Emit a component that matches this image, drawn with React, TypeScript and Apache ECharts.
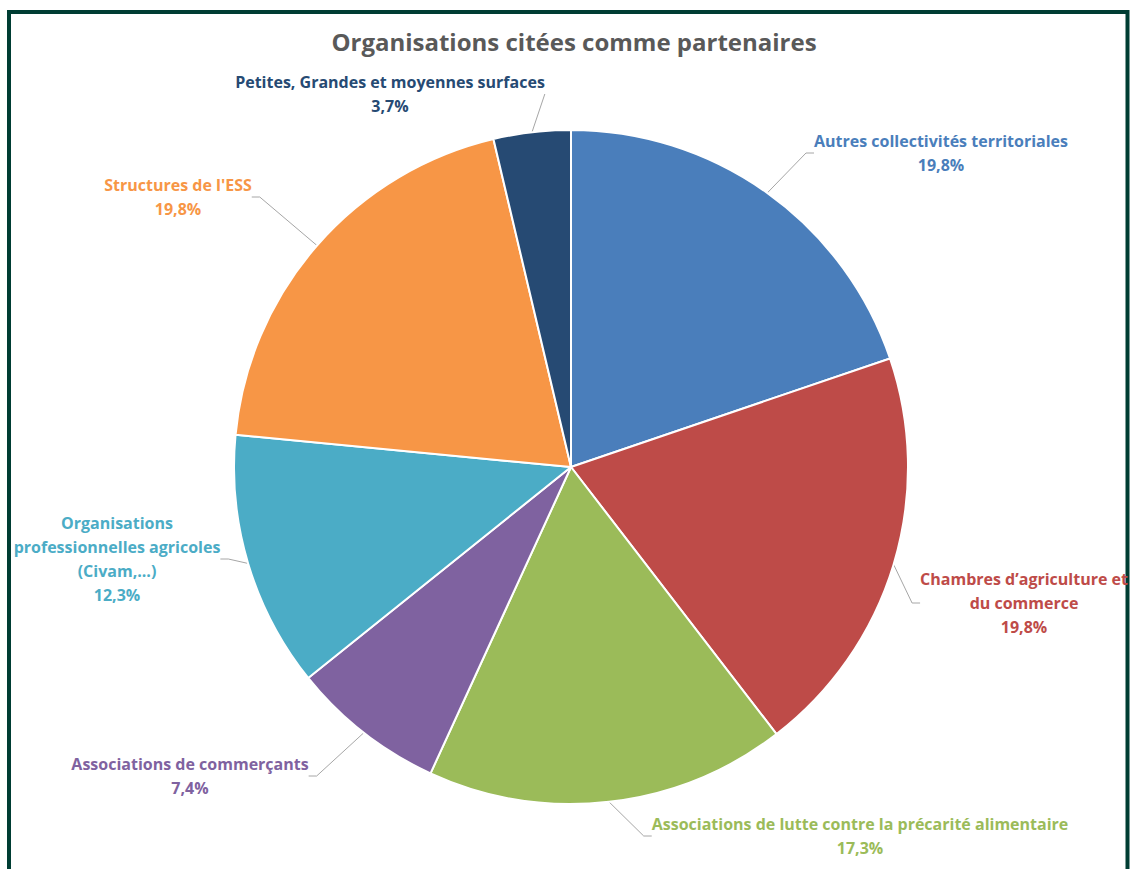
import React, { useEffect, useRef } from "react";
import * as echarts from "echarts";

const categories = [
  "Autres collectivités territoriales",
  "Chambres d’agriculture et\ndu commerce",
  "Associations de lutte contre la précarité alimentaire",
  "Associations de commerçants",
  "Organisations\nprofessionnelles agricoles\n(Civam,...)",
  "Structures de l'ESS",
  "Petites, Grandes et moyennes surfaces",
];
const values = [19.8, 19.8, 17.3, 7.4, 12.3, 19.8, 3.7];
const colors = ["#4A7EBB", "#BE4B48", "#9BBB59", "#7F62A0", "#4BACC6", "#F79646", "#264A73"];
// label block centres (layout only)
const labelPos = [
  [941, 153],
  [1024, 603],
  [860, 836],
  [190, 776],
  [117, 559],
  [178, 197],
  [390, 94],
];

export default function App() {
  const ref = useRef<HTMLDivElement>(null);
  useEffect(() => {
    const chart = echarts.init(ref.current!, null, { renderer: "svg" });
    chart.setOption({
      animation: false,
      backgroundColor: "#ffffff",
      title: {
        text: "Organisations citées comme partenaires",
        left: 569,
        textAlign: "center",
        top: 24,
        textStyle: { fontFamily: "Open Sans", fontSize: 24, fontWeight: "bold", color: "#595959" },
      },
      graphic: [
        {
          type: "rect",
          shape: { x: 9, y: 12, width: 1118.5, height: 900 },
          style: { fill: "none", stroke: "#003D33", lineWidth: 4 },
          silent: true,
        },
      ],
      series: [
        {
          type: "pie",
          center: [571, 467],
          radius: 337,
          startAngle: 90,
          clockwise: true,
          avoidLabelOverlap: false,
          itemStyle: { borderColor: "#ffffff", borderWidth: 2 },
          label: {
            show: true,
            position: "outside",
            fontFamily: "Open Sans",
            fontSize: 16,
            fontWeight: "bold",
            lineHeight: 24,
            align: "center",
            formatter: (p: any) => `${p.name}\n${values[p.dataIndex].toFixed(1).replace(".", ",")}%`,
          },
          labelLine: { show: true, length: 8, length2: 8, lineStyle: { color: "#A6A6A6", width: 1 } },
          labelLayout: (p: any) => ({
            x: labelPos[p.dataIndex][0],
            y: labelPos[p.dataIndex][1],
            align: "center",
            verticalAlign: "middle",
          }),
          data: categories.map((name, i) => ({
            name,
            value: values[i],
            itemStyle: { color: colors[i] },
            label: { color: colors[i] },
          })),
        },
      ],
    });
    return () => chart.dispose();
  }, []);
  return (
    <div
      ref={ref}
      style={{ position: "absolute", left: 0, top: 0, width: 1132, height: 869 }}
    />
  );
}
